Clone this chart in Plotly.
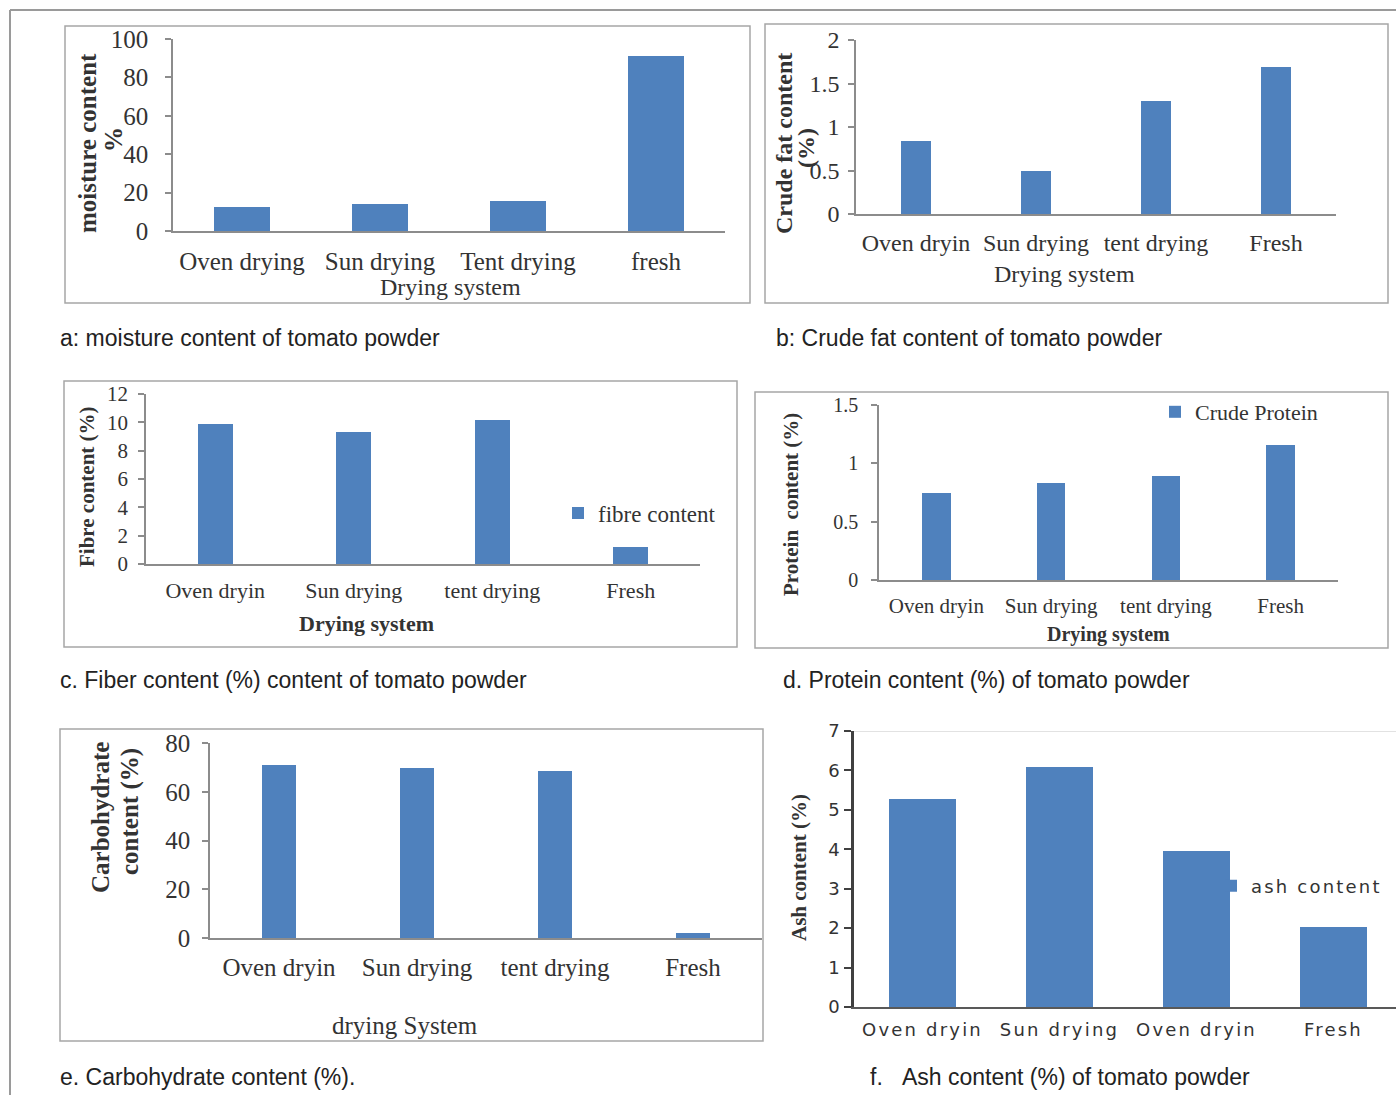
import plotly.graph_objects as go

W, H = 1396, 1095
BLUE = "#4F81BD"
SERIF = "Liberation Serif, Times New Roman, serif"
SANS = "Liberation Sans, Arial, sans-serif"
WIDE = "DejaVu Sans, Verdana, sans-serif"

# ---------------- data ----------------
cats_a = ["Oven drying", "Sun drying", "Tent drying", "fresh"]
moisture = [12.5, 14.0, 15.5, 91.2]

cats_b = ["Oven dryin", "Sun drying", "tent drying", "Fresh"]
crude_fat = [0.84, 0.50, 1.30, 1.69]

cats_c = ["Oven dryin", "Sun drying", "tent drying", "Fresh"]
fibre = [9.9, 9.3, 10.2, 1.2]

cats_d = ["Oven dryin", "Sun drying", "tent drying", "Fresh"]
protein = [0.75, 0.83, 0.89, 1.16]

cats_e = ["Oven dryin", "Sun drying", "tent drying", "Fresh"]
carbohydrate = [70.8, 69.6, 68.4, 2.0]

cats_f = ["Oven dryin", "Sun drying", "Oven dryin", "Fresh"]
ash = [5.28, 6.09, 3.96, 2.03]


def xd(a, b):
    return [a / W, b / W]


def yd(top, bottom):
    return [1 - bottom / H, 1 - top / H]


def px(x):
    return x / W


def py(y):
    return 1 - y / H


fig = go.Figure()

panels = [
    dict(cats=cats_a, vals=moisture, xdom=(173, 725), ydom=(39, 231), yr=[0, 100], dt=20, bw=0.4,
         tf=25, cf=25, ys=12, xs=7, legend=None, name="moisture"),
    dict(cats=cats_b, vals=crude_fat, xdom=(856, 1336), ydom=(40, 214), yr=[0, 2], dt=0.5, bw=0.25,
         tf=24, cf=24, ys=4, xs=6, legend=None, name="fat"),
    dict(cats=cats_c, vals=fibre, xdom=(146, 700), ydom=(394, 564), yr=[0, 12], dt=2, bw=0.25,
         tf=21, cf=22, ys=6, xs=6, legend="legend", name="fibre content"),
    dict(cats=cats_d, vals=protein, xdom=(879, 1338), ydom=(405, 580), yr=[0, 1.5], dt=0.5, bw=0.25,
         tf=20, cf=21, ys=9, xs=6, legend="legend2", name="Crude Protein"),
    dict(cats=cats_e, vals=carbohydrate, xdom=(210, 762), ydom=(743, 938), yr=[0, 80], dt=20, bw=0.25,
         tf=25, cf=25, ys=7, xs=6, legend=None, name="carb"),
]

layout_axes = {}
for i, p in enumerate(panels, start=1):
    xa = "x" if i == 1 else f"x{i}"
    ya = "y" if i == 1 else f"y{i}"
    pos = list(range(len(p["cats"])))
    tr = go.Bar(x=pos, y=p["vals"], width=p["bw"], marker=dict(color=BLUE, line=dict(width=0)),
                xaxis=xa, yaxis=ya, name=p["name"], showlegend=p["legend"] is not None)
    if p["legend"] is not None:
        tr.update(legend=p["legend"])
    fig.add_trace(tr)
    xkey = "xaxis" if i == 1 else f"xaxis{i}"
    ykey = "yaxis" if i == 1 else f"yaxis{i}"
    layout_axes[xkey] = dict(
        domain=xd(*p["xdom"]), anchor=ya, range=[-0.5, len(pos) - 0.5],
        tickmode="array", tickvals=pos, ticktext=p["cats"], ticks="",
        showline=True, linecolor="#8C8C8C", linewidth=1.5, showgrid=False, zeroline=False,
        tickfont=dict(family=SERIF, size=p["cf"], color="#333333"),
        ticklabelstandoff=p["xs"], fixedrange=True, automargin=False,
    )
    layout_axes[ykey] = dict(
        domain=yd(*p["ydom"]), anchor=xa, range=p["yr"], dtick=p["dt"], tick0=0,
        ticks="outside", ticklen=6, tickcolor="#8C8C8C", tickwidth=1.5,
        showline=True, linecolor="#8C8C8C", linewidth=1.5, showgrid=False, zeroline=False,
        tickfont=dict(family=SERIF, size=p["tf"], color="#333333"),
        ticklabelstandoff=p["ys"], fixedrange=True, automargin=False,
    )

# panel f
SP = "letter-spacing:2.2px"
pos_f = list(range(len(cats_f)))
fig.add_trace(go.Bar(x=pos_f, y=ash, width=0.49, marker=dict(color=BLUE, line=dict(width=0)),
                     xaxis="x6", yaxis="y6", name=f'<span style="{SP}">ash content</span>',
                     legend="legend3", showlegend=True))
layout_axes["xaxis6"] = dict(
    domain=xd(854, 1396), anchor="y6", range=[-0.5, 3.5 - 6 / 137],
    tickmode="array", tickvals=pos_f,
    ticktext=[f'<span style="{SP}">{c}</span>' for c in cats_f], ticks="",
    showline=True, linecolor="#595959", linewidth=2, showgrid=False, zeroline=False,
    tickfont=dict(family=WIDE, size=18, color="#333333"), ticklabelstandoff=5, fixedrange=True,
    automargin=False,
)
layout_axes["yaxis6"] = dict(
    domain=yd(731, 1007), anchor="x6", range=[0, 7], dtick=1, tick0=0,
    ticks="outside", ticklen=7, tickcolor="#404040", tickwidth=2,
    showline=True, linecolor="#404040", linewidth=2.5, showgrid=False, zeroline=False,
    tickfont=dict(family=WIDE, size=18, color="#333333"), ticklabelstandoff=1, fixedrange=True,
    automargin=False,
)

fig.update_layout(**layout_axes)

# legends
fig.update_layout(
    showlegend=True,
    legend=dict(x=px(558), y=py(513), xanchor="left", yanchor="middle", bgcolor="rgba(0,0,0,0)",
                font=dict(family=SERIF, size=23, color="#333333"), itemclick=False),
    legend2=dict(x=px(1155), y=py(412), xanchor="left", yanchor="middle", bgcolor="rgba(0,0,0,0)",
                 font=dict(family=SERIF, size=22, color="#333333"), itemclick=False),
    legend3=dict(x=px(1211), y=py(886), xanchor="left", yanchor="middle", bgcolor="rgba(0,0,0,0)",
                 font=dict(family=WIDE, size=18, color="#333333"), itemclick=False),
)

shapes = [
    dict(type="line", xref="x6", yref="y6", x0=-0.5, x1=3.5, y0=7, y1=7,
         line=dict(color="#D9D9D9", width=1.5)),
    dict(type="line", xref="paper", yref="paper", x0=px(10), x1=px(10), y0=0, y1=py(10),
         line=dict(color="#9A9A9A", width=2)),
    dict(type="line", xref="paper", yref="paper", x0=px(10), x1=1, y0=py(10), y1=py(10),
         line=dict(color="#9A9A9A", width=2)),
]
boxes = [(65, 26, 750, 303), (765, 24, 1388, 303), (64, 381, 737, 647),
         (755, 392, 1388, 648), (60, 729, 763, 1041)]
for (x0, y0, x1, y1) in boxes:
    shapes.append(dict(type="rect", xref="paper", yref="paper", x0=px(x0), x1=px(x1),
                       y0=py(y1), y1=py(y0), line=dict(color="#A6A6A6", width=1.5),
                       fillcolor="rgba(0,0,0,0)"))
fig.update_layout(shapes=shapes)

ann = []


def text(t, x, y, size, family=SERIF, bold=False, angle=0, xanchor="center", color="#333333"):
    s = f"<b>{t}</b>" if bold else t
    ann.append(dict(text=s, x=px(x), y=py(y), xref="paper", yref="paper", showarrow=False,
                    textangle=angle, xanchor=xanchor, yanchor="middle",
                    font=dict(family=family, size=size, color=color)))


# axis titles
text("moisture content", 88, 143, 25, bold=True, angle=-90)
text("%", 113, 140, 25, bold=True, angle=-90)
text("Drying system", 450, 287, 24)

text("Crude fat content", 784, 144, 24, bold=True, angle=-90)
text("(%)", 806, 148, 24, bold=True, angle=-90)
text("Drying system", 1064, 274, 24)

text("Fibre content (%)", 87, 487, 21, bold=True, angle=-90)
text("Drying system", 367, 623, 22, bold=True)

text("Protein  content (%)", 791, 505, 21, bold=True, angle=-90)
text("Drying system", 1108, 634, 20, bold=True)

text("Carbohydrate", 100, 818, 25, bold=True, angle=-90)
text("content (%)", 130, 812, 25, bold=True, angle=-90)
text("drying System", 405, 1025, 25)

text("Ash content (%)", 799, 868, 21, bold=True, angle=-90)

# captions
CAP = "#222222"
text("a: moisture content of tomato powder", 58, 338, 23, family=SANS, xanchor="left", color=CAP)
text("b: Crude fat content of tomato powder", 774, 338, 23, family=SANS, xanchor="left", color=CAP)
text("c. Fiber content (%) content of tomato powder", 58, 680, 23, family=SANS, xanchor="left", color=CAP)
text("d. Protein content (%) of tomato powder", 781, 680, 23, family=SANS, xanchor="left", color=CAP)
text("e. Carbohydrate content (%).", 58, 1077, 23, family=SANS, xanchor="left", color=CAP)
text("f.\u00a0\u00a0\u00a0Ash content (%) of tomato powder", 868, 1077, 23, family=SANS, xanchor="left", color=CAP)

fig.update_layout(
    annotations=ann,
    width=W, height=H, margin=dict(l=0, r=0, t=0, b=0, pad=0, autoexpand=False),
    paper_bgcolor="white", plot_bgcolor="white",
    bargap=0,
)

fig.write_html("out.html", config={"displayModeBar": False},
               post_script="document.body.style.margin='0';document.body.style.overflow='hidden';")
